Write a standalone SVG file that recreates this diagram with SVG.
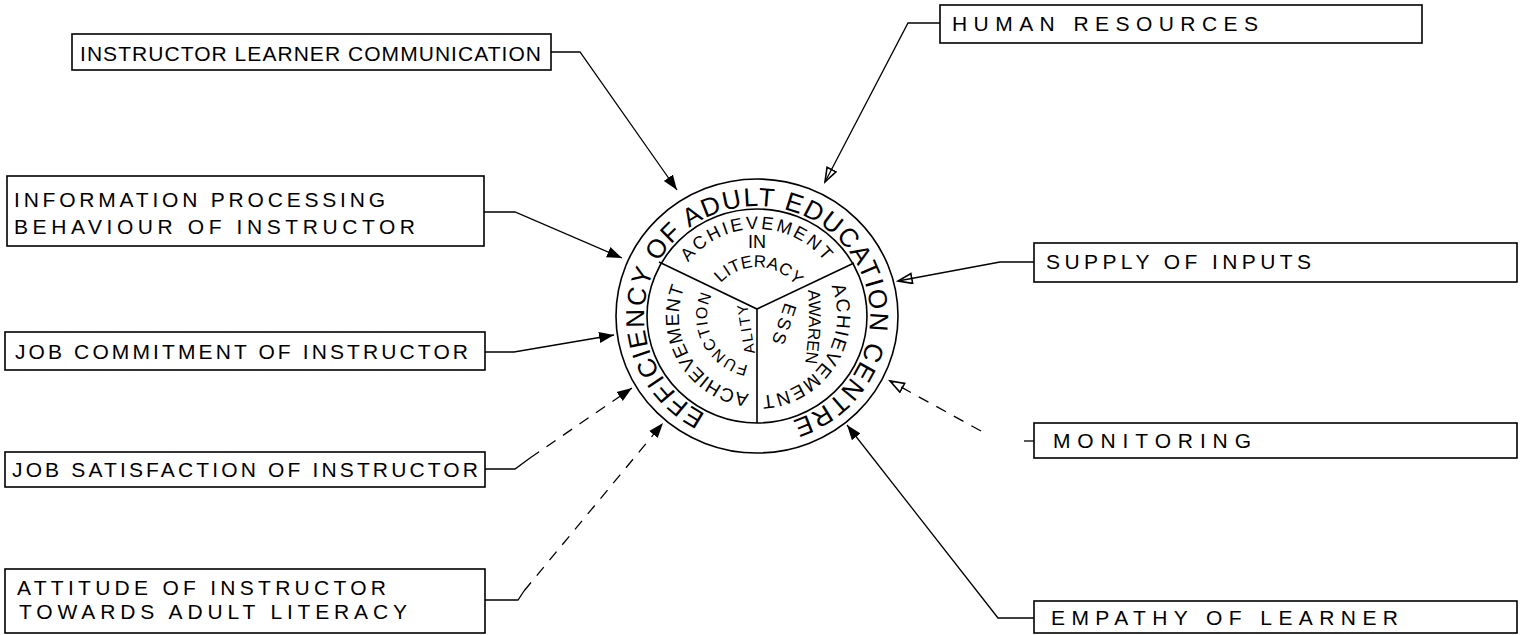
<svg xmlns="http://www.w3.org/2000/svg" width="1522" height="635" viewBox="0 0 1522 635">
<style>
.box{fill:#fff;stroke:#000;stroke-width:1.6}
.lbl{font-family:"Liberation Sans",Arial,sans-serif;font-size:21px;fill:#000}
.ring{fill:none;stroke:#000;stroke-width:1.6}
.ct{font-family:"Liberation Sans",Arial,sans-serif;fill:#000}
.conn{fill:none;stroke:#000;stroke-width:1.3}
.dash{stroke-dasharray:11 9}
</style>
<defs>
<marker id="af" markerUnits="userSpaceOnUse" markerWidth="18" markerHeight="14" refX="15" refY="6" orient="auto">
<path d="M0,0.5 L15,6 L0,11.5 z" fill="#000"/>
</marker>
<marker id="ao" markerUnits="userSpaceOnUse" markerWidth="18" markerHeight="14" refX="15" refY="6" orient="auto">
<path d="M1,1 L15,6 L1,11 z" fill="none" stroke="#000" stroke-width="1.6"/>
</marker>
<path id="pOuter" d="M705.7,414 A113,110 0 1 1 777.6,424.2"/>
<path id="pTop" d="M688.4,262.4 A87,87 0 0 1 827,264.4"/>
<path id="pLit" d="M720.8,283 A49,49 0 0 1 795.6,285.7"/>
<path id="pLeft" d="M748.8,393.6 A78,78 0 0 1 684.7,286.8"/>
<path id="pRight" d="M831.2,286 A80,80 0 0 1 760.5,395.9"/>
<path id="pFunc" d="M748.3,365.2 A50,50 0 0 1 712.1,294.1"/>
<path id="pAlity" d="M755,353 L747,303"/>
<path id="pAwa" d="M808,290 Q811,328 804,370"/>
<path id="pEss" d="M785,302 L767,356"/>
</defs>

<g id="connectors">
<path class="conn" d="M551,52 H580 L677,190" marker-end="url(#af)"/>
<path class="conn" d="M940,23 H908 L825,182" marker-end="url(#ao)"/>
<path class="conn" d="M484,212 H515 L622,258" marker-end="url(#af)"/>
<path class="conn" d="M485,352 H514 L614,335" marker-end="url(#af)"/>
<path class="conn" d="M485,469 H515 L530,458"/>
<path class="conn dash" d="M530,458 L632,388" marker-end="url(#af)"/>
<path class="conn" d="M485,600 H518 L524,591"/>
<path class="conn dash" d="M524,591 L663,423" marker-end="url(#af)"/>
<path class="conn" d="M1034,262 H1000 L898,281" marker-end="url(#ao)"/>
<path class="conn" d="M1034,441 H1024"/>
<path class="conn dash" d="M981,431 L890,381" marker-end="url(#ao)"/>
<path class="conn" d="M1034,618 H998 L847,425" marker-end="url(#af)"/>
</g>

<g id="centre">
<ellipse class="ring" cx="757" cy="316" rx="141" ry="137"/>
<ellipse class="ring" cx="757" cy="316" rx="110" ry="107"/>
<path class="ring" d="M659,262 L757,309 L854,263 M757,309 V423"/>
<text class="ct" font-size="26" letter-spacing="1.5"><textPath href="#pOuter">EFFICIENCY OF ADULT EDUCATION CENTRE</textPath></text>
<text class="ct" font-size="18" letter-spacing="2.6"><textPath href="#pTop">ACHIEVEMENT</textPath></text>
<text class="ct" font-size="18" x="757" y="248" text-anchor="middle">IN</text>
<text class="ct" font-size="17" letter-spacing="0.3"><textPath href="#pLit">LITERACY</textPath></text>
<text class="ct" font-size="19" letter-spacing="0.6"><textPath href="#pLeft">ACHIEVEMENT</textPath></text>
<text class="ct" font-size="16" letter-spacing="1.2"><textPath href="#pFunc">FUNCTION</textPath></text>
<text class="ct" font-size="15" letter-spacing="2"><textPath href="#pAlity">ALITY</textPath></text>
<text class="ct" font-size="19" letter-spacing="1.4"><textPath href="#pRight">ACHIEVEMENT</textPath></text>
<text class="ct" font-size="17"><textPath href="#pAwa">AWAREN</textPath></text>
<text class="ct" font-size="18" letter-spacing="3"><textPath href="#pEss">ESS</textPath></text>
</g>

<g id="n-instructor-learner">
<rect class="box" x="72" y="34" width="479" height="36"/>
<text class="lbl" x="80" y="61" textLength="461" lengthAdjust="spacing">INSTRUCTOR LEARNER COMMUNICATION</text>
</g>
<g id="n-human-resources">
<rect class="box" x="940" y="5" width="482" height="38"/>
<text class="lbl" x="952" y="31" textLength="306" lengthAdjust="spacing">HUMAN RESOURCES</text>
</g>
<g id="n-information-processing">
<rect class="box" x="7" y="176" width="477" height="70"/>
<text class="lbl" x="14" y="207" textLength="371" lengthAdjust="spacing">INFORMATION PROCESSING</text>
<text class="lbl" x="14" y="234" textLength="401" lengthAdjust="spacing">BEHAVIOUR OF INSTRUCTOR</text>
</g>
<g id="n-job-commitment">
<rect class="box" x="5" y="332" width="480" height="38"/>
<text class="lbl" x="15" y="359" textLength="453" lengthAdjust="spacing">JOB COMMITMENT OF INSTRUCTOR</text>
</g>
<g id="n-job-satisfaction">
<rect class="box" x="5" y="452" width="480" height="35"/>
<text class="lbl" x="12" y="477" textLength="466" lengthAdjust="spacing">JOB SATISFACTION OF INSTRUCTOR</text>
</g>
<g id="n-attitude">
<rect class="box" x="5" y="569" width="480" height="64"/>
<text class="lbl" x="17" y="595" textLength="369" lengthAdjust="spacing">ATTITUDE OF INSTRUCTOR</text>
<text class="lbl" x="19" y="619" textLength="388" lengthAdjust="spacing">TOWARDS ADULT LITERACY</text>
</g>
<g id="n-supply">
<rect class="box" x="1034" y="243" width="483" height="39"/>
<text class="lbl" x="1046" y="269" textLength="265" lengthAdjust="spacing">SUPPLY OF INPUTS</text>
</g>
<g id="n-monitoring">
<rect class="box" x="1034" y="423" width="483" height="35"/>
<text class="lbl" x="1053" y="448" textLength="198" lengthAdjust="spacing">MONITORING</text>
</g>
<g id="n-empathy">
<rect class="box" x="1034" y="601" width="483" height="32"/>
<text class="lbl" x="1051" y="625" textLength="347" lengthAdjust="spacing">EMPATHY OF LEARNER</text>
</g>
</svg>
